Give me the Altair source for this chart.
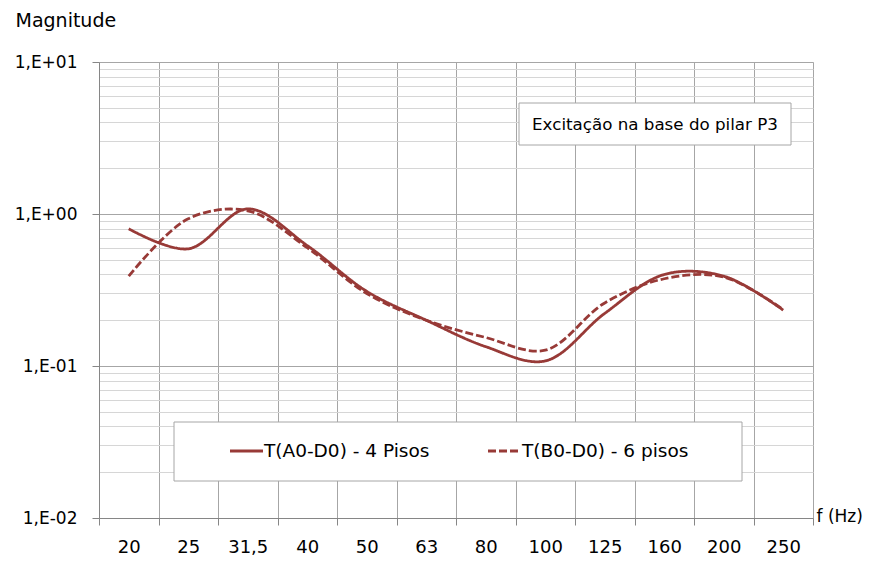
import altair as alt
import pandas as pd

# ---- data ----
freqs = ["20", "25", "31,5", "40", "50", "63", "80", "100", "125", "160", "200", "250"]
serie_a = [0.80, 0.59, 1.08, 0.62, 0.31, 0.20, 0.134, 0.108, 0.222, 0.40, 0.39, 0.233]
serie_b = [0.39, 0.93, 1.05, 0.60, 0.30, 0.20, 0.154, 0.127, 0.26, 0.375, 0.385, 0.235]
names = ["T(A0-D0) - 4 Pisos", "T(B0-D0) - 6 pisos"]
y_ticks = [0.01, 0.02, 0.03, 0.04, 0.05, 0.06, 0.07, 0.08, 0.09,
           0.1, 0.2, 0.3, 0.4, 0.5, 0.6, 0.7, 0.8, 0.9,
           1, 2, 3, 4, 5, 6, 7, 8, 9, 10]
note = "Excitação na base do pilar P3"

FONT = "DejaVu Sans"
RED = "#983a37"
W, H = 714, 456

df = pd.DataFrame({
    "freq": freqs * 2,
    "value": serie_a + serie_b,
    "serie": [names[0]] * len(freqs) + [names[1]] * len(freqs),
})

is_major = "abs(log(datum.value)/LN10 - round(log(datum.value)/LN10)) < 0.001"

x_enc = alt.X(
    "freq:N", sort=freqs, bandPosition=0.5,
    scale=alt.Scale(type="band", paddingInner=0, paddingOuter=0),
    axis=alt.Axis(
        title="f (Hz)", titleFont=FONT, titleFontSize=17, titleFontWeight="normal",
        titleAnchor="start", titleAlign="left", titleBaseline="alphabetic",
        titleX=717, titleY=3, titleColor="#000",
        labelAngle=0, labelFont=FONT, labelFontSize=18, labelColor="#000",
        labelPadding=13, tickBand="extent", tickSize=7, tickColor="#868686",
        grid=True, gridColor="#a6a6a6", domainColor="#868686",
    ),
)
y_enc = alt.Y(
    "value:Q",
    scale=alt.Scale(type="log", domain=[0.01, 10], nice=False),
    axis=alt.Axis(
        values=y_ticks,
        labelExpr=("(" + is_major + ") ? ('1,E' + (round(log(datum.value)/LN10) < 0 ? '-' : '+') + "
                   "'0' + abs(round(log(datum.value)/LN10))) : ''"),
        labelFont=FONT, labelFontSize=17, labelColor="#000", labelPadding=15,
        tickSize=7,
        tickColor={"condition": {"test": is_major, "value": "#868686"}, "value": "transparent"},
        grid=True,
        gridColor={"condition": {"test": is_major, "value": "#a6a6a6"}, "value": "#d6d6d6"},
        domainColor="#868686",
        title="Magnitude", titleFont=FONT, titleFontSize=19, titleFontWeight="normal",
        titleAngle=0, titleAlign="left", titleBaseline="alphabetic",
        titleX=-84, titleY=-36, titleColor="#000",
    ),
)

lines = alt.Chart(df).mark_line(
    interpolate="catmull-rom", strokeWidth=2.8, color=RED
).encode(
    x=x_enc, y=y_enc,
    strokeDash=alt.StrokeDash("serie:N", scale=alt.Scale(domain=names, range=[[1, 0], [8, 3]]), legend=None),
    detail="serie:N",
)

one = pd.DataFrame({"k": [0]})

note_box = alt.Chart(one).mark_rect(fill="white", stroke="#a6a6a6", strokeWidth=1).encode(
    x=alt.value(420), x2=alt.value(692), y=alt.value(41), y2=alt.value(83))
note_txt = alt.Chart(one).mark_text(font=FONT, fontSize=16.7, color="#000", align="center",
                                    baseline="middle").encode(
    x=alt.value(556), y=alt.value(63), text=alt.value(note))

leg_box = alt.Chart(one).mark_rect(fill="white", stroke="#a6a6a6", strokeWidth=1).encode(
    x=alt.value(75), x2=alt.value(643), y=alt.value(360), y2=alt.value(419))
leg_s1 = alt.Chart(one).mark_rule(color=RED, strokeWidth=2.8).encode(
    x=alt.value(131), x2=alt.value(164), y=alt.value(389))
leg_s2 = alt.Chart(one).mark_rule(color=RED, strokeWidth=2.8, strokeDash=[8, 3]).encode(
    x=alt.value(389), x2=alt.value(422), y=alt.value(389))
leg_t1 = alt.Chart(one).mark_text(font=FONT, fontSize=18.5, color="#000", align="left",
                                  baseline="middle").encode(
    x=alt.value(165), y=alt.value(389), text=alt.value(names[0]))
leg_t2 = alt.Chart(one).mark_text(font=FONT, fontSize=18.5, color="#000", align="left",
                                  baseline="middle").encode(
    x=alt.value(423), y=alt.value(389), text=alt.value(names[1]))

chart = alt.layer(
    lines, note_box, note_txt, leg_box, leg_s1, leg_s2, leg_t1, leg_t2
).properties(
    width=W, height=H,
    autosize=alt.AutoSizeParams(type="none"),
    padding={"left": 91, "top": 54, "right": 52, "bottom": 39},
).configure_view(stroke=None).configure(background="white")

chart.save("out.html", embed_options={"renderer": "svg", "actions": False})
